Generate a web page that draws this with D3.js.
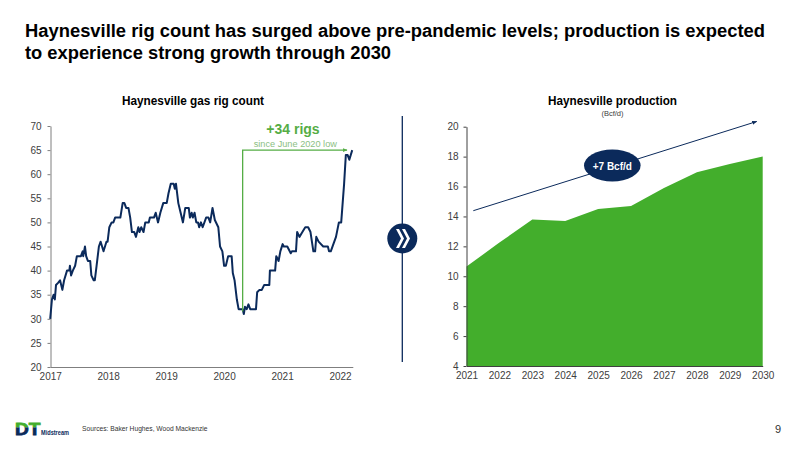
<!DOCTYPE html>
<html>
<head>
<meta charset="utf-8">
<script src="https://cdn.jsdelivr.net/npm/d3@7"></script>
<style>
html,body{margin:0;padding:0;background:#fff;}
text{font-family:"Liberation Sans",Arial,sans-serif;}
.tick text{fill:#404040;font-size:10px;}
.left .tick line,.left .domain{stroke:#7f7f7f;}
.right .tick line,.right .domain{stroke:#404040;}
</style>
</head>
<body>
<div id="chart"></div>
<script>
// years after Jan 2017
const rigYears = [0,.03,.06,.08,.10,.14,.17,.21,.24,.29,.33,.34,.36,.39,.43,.46,.53,.56,.57,.60,.62,.65,.69,.71,.75,.77,.80,.84,.87,.92,.97,.99,
  1.02,1.06,1.09,1.12,1.21,1.25,1.28,1.31,1.35,1.38,1.41,1.45,1.48,1.52,1.54,1.57,1.61,1.64,1.70,1.72,1.79,1.82,1.86,1.90,1.95,
  2.01,2.04,2.08,2.13,2.15,2.17,2.21,2.25,2.29,2.33,2.39,2.41,2.44,2.46,2.49,2.52,2.55,2.57,2.60,2.63,2.69,2.73,2.76,2.80,2.84,2.90,2.93,2.97,
  3.00,3.03,3.07,3.13,3.15,3.18,3.22,3.25,3.32,3.34,3.36,3.39,3.42,3.45,3.55,3.57,3.61,3.65,3.69,3.78,3.79,3.88,3.90,3.94,3.97,
  4.01,4.03,4.09,4.15,4.17,4.24,4.26,4.30,4.34,4.40,4.45,4.49,4.54,4.57,4.59,4.63,4.71,4.79,4.81,4.84,4.93,4.98,
  5.02,5.07,5.10,5.13,5.16,5.21];
const rigValues = [30,34,35,34,37,37.5,38,36,38,40,40,41,39,40,41,43,43,44,43,45,43,42,42,39,38,38,41,45,46,44,46,46,
  49,50,50,51,51,54,54,53,53,51,48,48,47,49,48,49,48,50,50,51,51,52,50,52,54,
  54,56,58,58,57,58,54,52,50,53,53,51,52,51,52,50,50,49,50,49,51,51,50,53,50.5,49,45,44,
  41,41,43,43,39.5,38,34,32,32,31,32.5,32,33,32,32,35.5,36,36,37,37,40,40,43,42,44,
  45.5,45,45,43.6,44,44,48,47,47.8,49,49,48,44,44,47,46,45,45,44,44,47,50,
  50,58,64,64,63,65];
const prodYears = ["2021","2022","2023","2024","2025","2026","2027","2028","2029","2030"];
const prodValues = [10.65,12.25,13.8,13.7,14.5,14.7,15.9,16.95,17.5,18];
const rigTicks = [20,25,30,35,40,45,50,55,60,65,70];
const prodTicks = [4,6,8,10,12,14,16,18,20];
const yearTicks = [0,1,2,3,4,5];

const navy = "#0b2a5b", green = "#43ae2c", arrowGreen = "#55ad45";
const svg = d3.select("#chart").append("svg").attr("width",800).attr("height",450);

const defs = svg.append("defs");
function marker(id,color){
  defs.append("marker").attr("id",id).attr("viewBox","0 0 10 10").attr("refX",9).attr("refY",5)
    .attr("markerWidth",5).attr("markerHeight",5).attr("orient","auto").attr("markerUnits","userSpaceOnUse")
    .append("path").attr("d","M0,1L10,5L0,9Z").attr("fill",color);
}
marker("ag",arrowGreen);
marker("an",navy);

// title
svg.append("text").attr("x",25).attr("y",37).text("Haynesville rig count has surged above pre-pandemic levels; production is expected")
  .attr("font-size",18).attr("font-weight","bold").attr("fill","#000").attr("textLength",740).attr("lengthAdjust","spacingAndGlyphs");
svg.append("text").attr("x",25).attr("y",58.5).text("to experience strong growth through 2030")
  .attr("font-size",18).attr("font-weight","bold").attr("fill","#000").attr("textLength",366).attr("lengthAdjust","spacingAndGlyphs");

// left chart
const xL = d3.scaleLinear().domain([0,5.22]).range([50.2,352.8]);
const yL = d3.scaleLinear().domain([20,70]).range([367,126]);
svg.append("g").attr("class","left").attr("transform","translate(50.5,0)")
  .call(d3.axisLeft(yL).tickValues(rigTicks).tickSizeInner(3).tickSizeOuter(0).tickPadding(6));
svg.append("g").attr("class","left").attr("transform","translate(0,367)")
  .call(d3.axisBottom(xL).tickValues(yearTicks).tickSize(0).tickPadding(6).tickFormat(d=>2017+d));
svg.append("path").datum(rigValues)
  .attr("d",d3.line().x((d,i)=>xL(rigYears[i])).y(d=>yL(d)))
  .attr("fill","none").attr("stroke",navy).attr("stroke-width",2).attr("stroke-linejoin","round");

svg.append("text").attr("x",193).attr("y",105).attr("text-anchor","middle").text("Haynesville gas rig count")
  .attr("font-size",12).attr("font-weight","bold").attr("fill","#000").attr("textLength",142).attr("lengthAdjust","spacingAndGlyphs");

// +34 rigs callout, from the June 2020 low to the latest count
svg.append("path").attr("d",`M${xL(3.32)},${yL(31.5)}V${yL(65)}H${xL(5.12)}`)
  .attr("fill","none").attr("stroke",arrowGreen).attr("stroke-width",1.3).attr("marker-end","url(#ag)");
svg.append("text").attr("x",293).attr("y",134).attr("text-anchor","middle").text("+34 rigs")
  .attr("font-size",14).attr("font-weight","bold").attr("fill",arrowGreen);
svg.append("text").attr("x",295.3).attr("y",147).attr("text-anchor","middle").text("since June 2020 low")
  .attr("font-size",9.2).attr("fill","#8cc083");

// divider
svg.append("line").attr("x1",402.3).attr("x2",402.3).attr("y1",116).attr("y2",362).attr("stroke",navy).attr("stroke-width",1.3);
svg.append("circle").attr("cx",402.3).attr("cy",238.5).attr("r",15).attr("fill",navy);
[396,402].forEach(x0=>{
  svg.append("path").attr("d",`M${x0},229L${x0+3},229L${x0+8},238.5L${x0+3},248L${x0},248L${x0+5},238.5Z`)
    .attr("fill","#fff");
});

// right chart
const xR = d3.scalePoint().domain(prodYears).range([466.5,762.7]);
const yR = d3.scaleLinear().domain([4,20]).range([366,126.7]);
svg.append("path").datum(prodValues)
  .attr("d",d3.area().x((d,i)=>xR(prodYears[i])).y0(yR(4)).y1(d=>yR(d))).attr("fill",green);
svg.append("g").attr("class","right").attr("transform","translate(466.5,0)")
  .call(d3.axisLeft(yR).tickValues(prodTicks).tickSizeInner(3).tickSizeOuter(0).tickPadding(5));
svg.append("g").attr("class","right").attr("transform","translate(0,366)")
  .call(d3.axisBottom(xR).tickSize(0).tickPadding(6));

svg.append("text").attr("x",612.5).attr("y",105).attr("text-anchor","middle").text("Haynesville production")
  .attr("font-size",12).attr("font-weight","bold").attr("fill","#000").attr("textLength",129).attr("lengthAdjust","spacingAndGlyphs");
svg.append("text").attr("x",612.5).attr("y",116).attr("text-anchor","middle").text("(Bcf/d)")
  .attr("font-size",7.5).attr("fill","#404040");

svg.append("line").attr("x1",473.3).attr("y1",210.7).attr("x2",756.7).attr("y2",121.5)
  .attr("stroke",navy).attr("stroke-width",1).attr("marker-end","url(#an)");
svg.append("ellipse").attr("cx",612.3).attr("cy",165.5).attr("rx",28.3).attr("ry",16).attr("fill",navy);
svg.append("text").attr("x",612.3).attr("y",169.5).attr("text-anchor","middle").text("+7 Bcf/d")
  .attr("font-size",10).attr("font-weight","bold").attr("fill","#fff");

// footer
svg.append("text").attr("x",82).attr("y",431).text("Sources: Baker Hughes, Wood Mackenzie").attr("font-size",6.7).attr("fill","#333");
svg.append("text").attr("x",781).attr("y",433).attr("text-anchor","end").text("9").attr("font-size",11).attr("fill","#333");

// logo, green on top and navy below
defs.append("clipPath").attr("id","logoTop").append("rect").attr("x",10).attr("y",420).attr("width",40).attr("height",7.5);
defs.append("clipPath").attr("id","logoBottom").append("rect").attr("x",10).attr("y",427.5).attr("width",40).attr("height",10);
[["logoTop",green],["logoBottom",navy]].forEach(([clip,color])=>{
  svg.append("text").attr("x",15).attr("y",434.5).text("DT").attr("clip-path",`url(#${clip})`)
    .attr("font-size",17).attr("font-weight","bold").attr("fill",color)
    .attr("stroke",color).attr("stroke-width",.8)
    .attr("textLength",25.5).attr("lengthAdjust","spacingAndGlyphs");
});
svg.append("text").attr("x",41).attr("y",435).text("Midstream").attr("font-size",7.5).attr("font-weight","bold").attr("fill",navy)
  .attr("textLength",28).attr("lengthAdjust","spacingAndGlyphs");
</script>
</body>
</html>
